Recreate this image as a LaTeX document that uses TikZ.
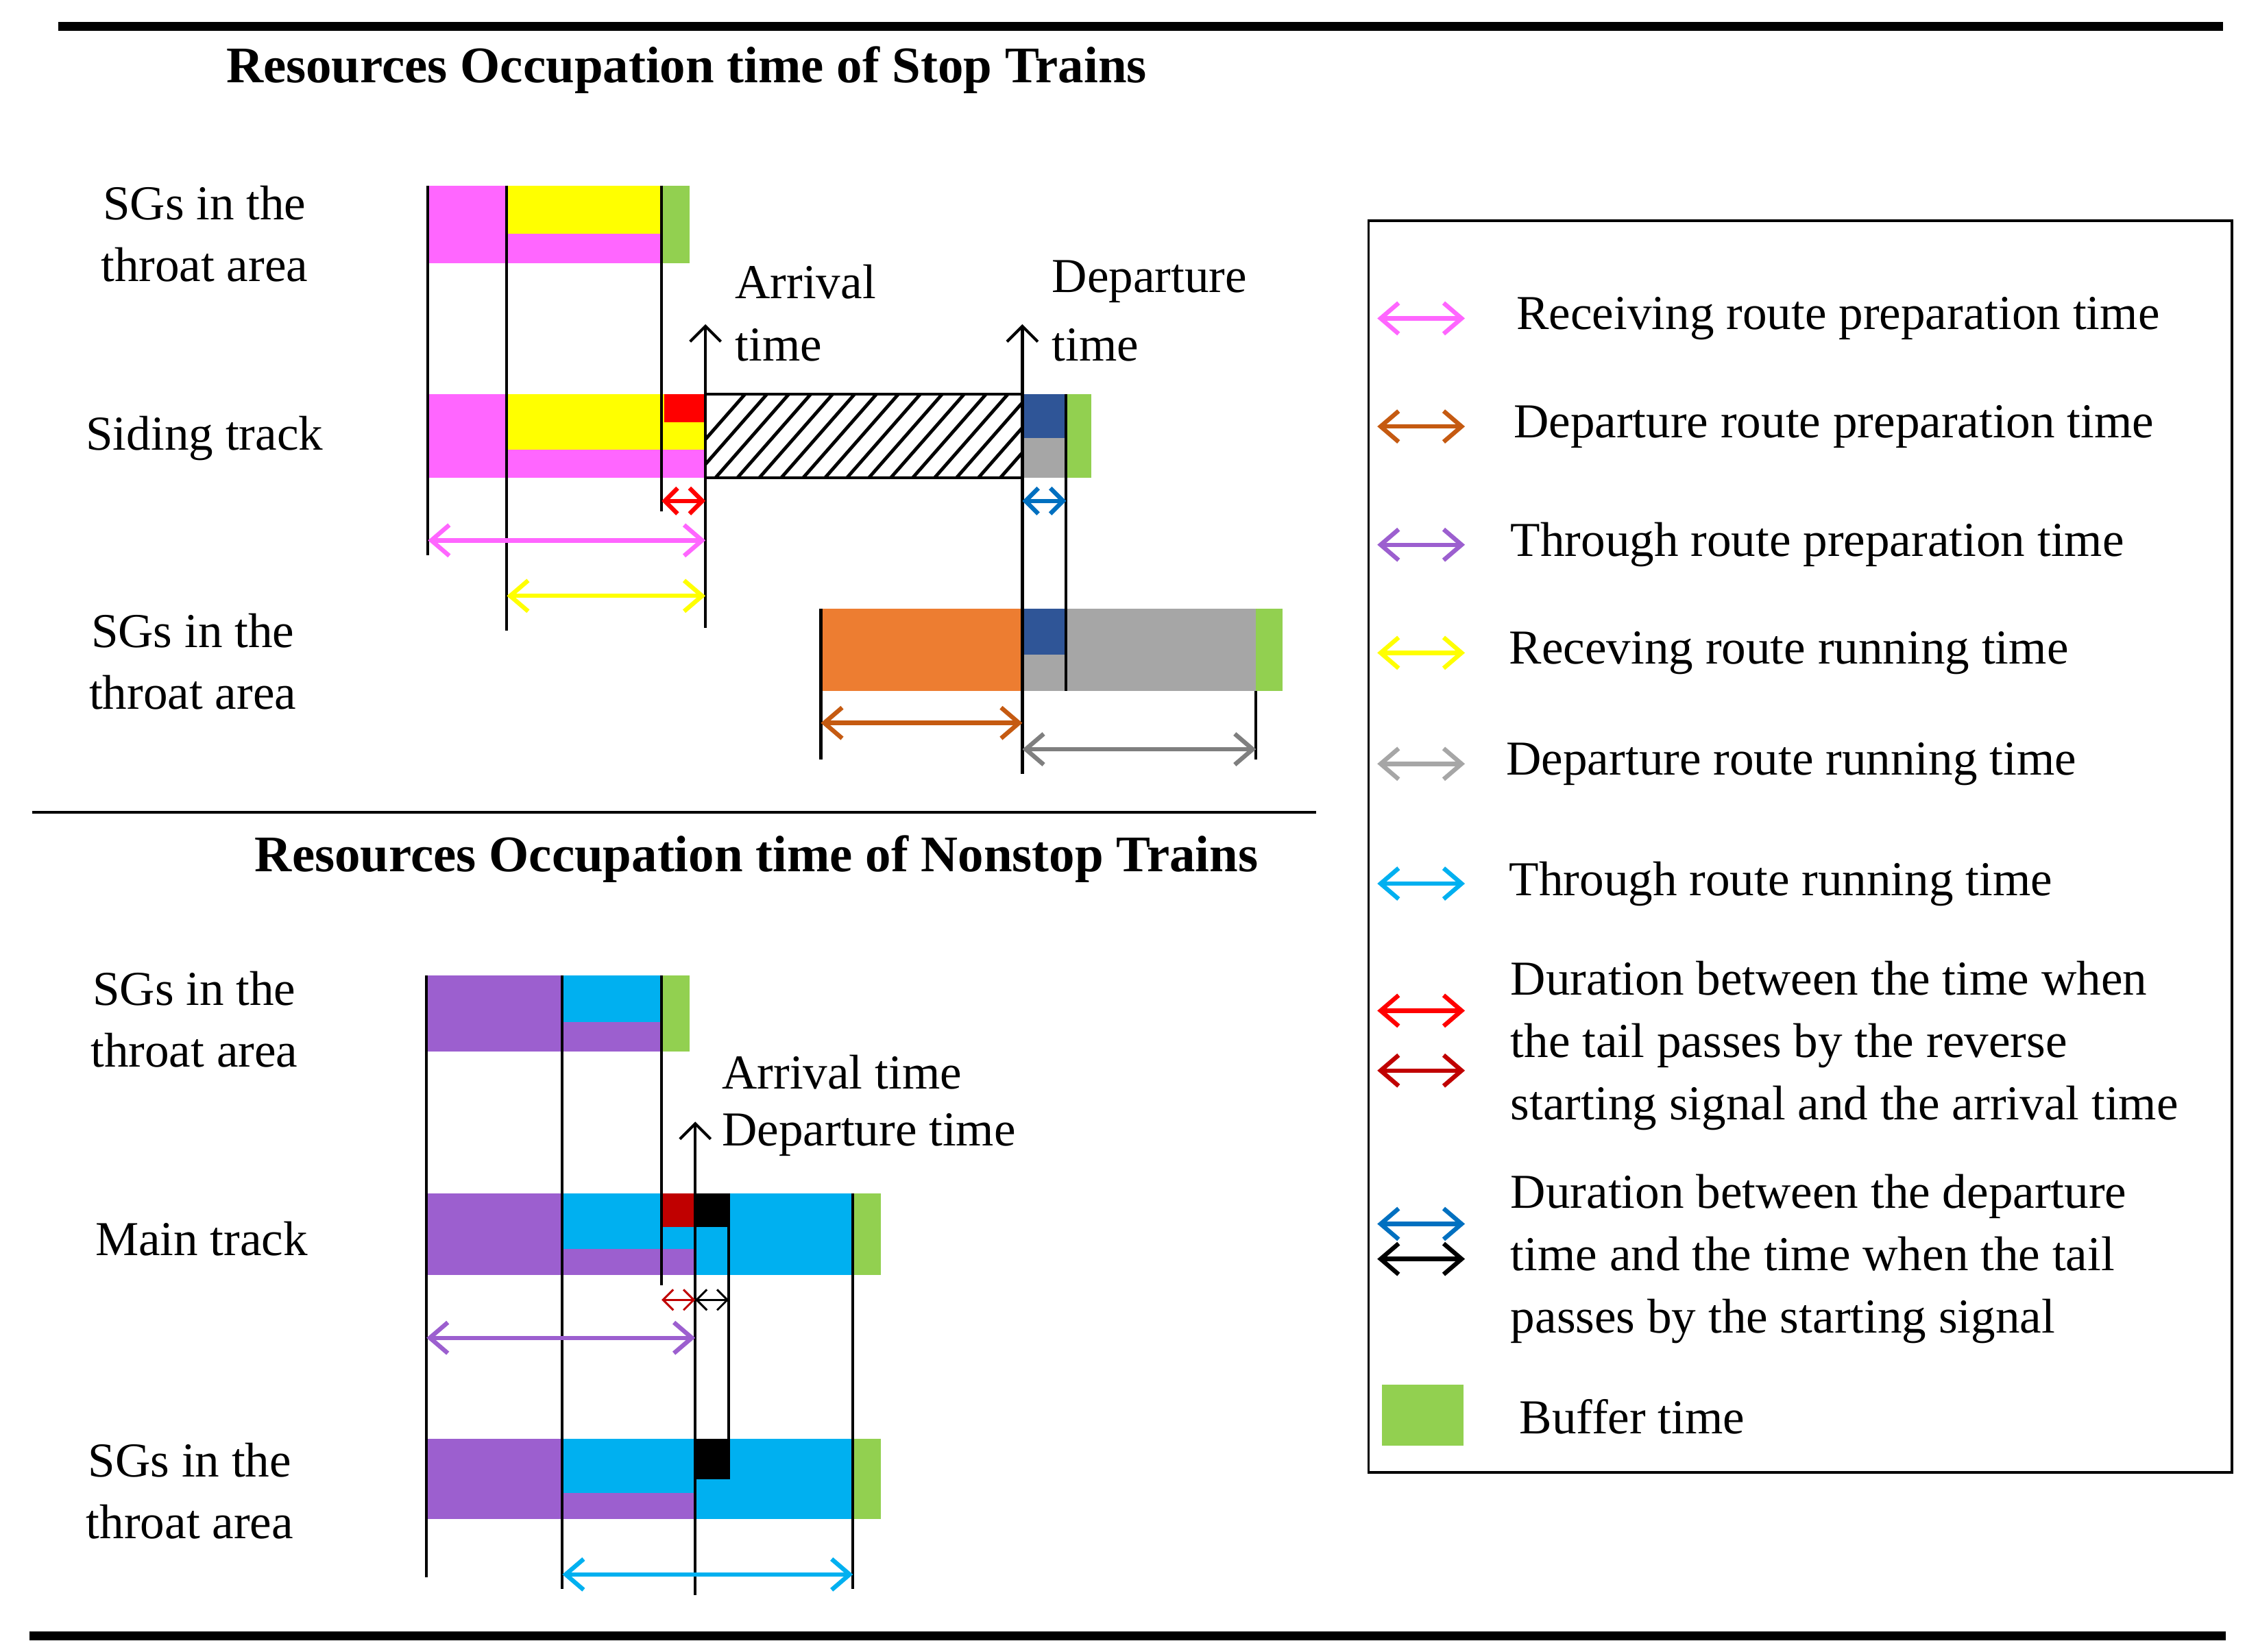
\documentclass[tikz,border=0pt]{standalone}
\usepackage{fontspec}
\setmainfont{Liberation Serif}
\usetikzlibrary{arrows.meta}
\definecolor{mag}{HTML}{FF66FF}
\definecolor{yel}{HTML}{FFFF00}
\definecolor{pur}{HTML}{9C5FCF}
\definecolor{cya}{HTML}{00B0F0}
\definecolor{grn}{HTML}{92D050}
\definecolor{org}{HTML}{ED7D31}
\definecolor{orga}{HTML}{C55A11}
\definecolor{dbl}{HTML}{2F5597}
\definecolor{gry}{HTML}{A6A6A6}
\definecolor{dgry}{HTML}{7F7F7F}
\definecolor{red}{HTML}{FF0000}
\definecolor{dred}{HTML}{C00000}
\definecolor{blu}{HTML}{0070C0}
\tikzset{
 txt/.style={font=\fontsize{19}{24}\selectfont, align=center, inner sep=0},
 ltxt/.style={font=\fontsize{19}{24.3}\selectfont, align=left, anchor=west, inner sep=0},
 ttl/.style={font=\bfseries\fontsize{20}{24}\selectfont, inner sep=0},
 dur/.style={{Straight Barb[length=7pt,width=12pt]}-{Straight Barb[length=7pt,width=12pt]}, line width=1.7pt},
 mdur/.style={{Straight Barb[length=5pt,width=10pt]}-{Straight Barb[length=5pt,width=10pt]}, line width=1.7pt},
 sdur/.style={{Straight Barb[length=4pt,width=8pt]}-{Straight Barb[length=4pt,width=8pt]}, line width=0.8pt},
 vl/.style={line width=1.1pt},
 up/.style={-{Straight Barb[length=6pt,width=12pt]}, line width=1.1pt},
}
\begin{document}
\begin{tikzpicture}[x=0.02cm,y=-0.02cm]
\useasboundingbox (0,0) rectangle (1546,1131);
\draw[line width=3.5pt] (40,18) -- (1522,18);
\draw[line width=3.5pt] (20,1120) -- (1524,1120);
\node[ttl] (t1) at (470,48) {Resources Occupation time of Stop Trains};
\node[ttl] (t2) at (518,588) {Resources Occupation time of Nonstop Trains};
\draw[line width=1pt] (22,556) -- (901,556);
% labels
\node[txt] (l1) at (140,160) {SGs in the\\throat area};
\node[txt] (l2) at (140,300) {Siding track};
\node[txt] (l3) at (132,453) {SGs in the\\throat area};
\node[txt] (l4) at (133,698) {SGs in the\\throat area};
\node[txt] (l5) at (138,848) {Main track};
\node[txt] (l6) at (130,1021) {SGs in the\\throat area};
% stop row1
\fill[mag] (293,127) rectangle (347,180);
\fill[yel] (347,127) rectangle (453,160);
\fill[mag] (347,160) rectangle (453,180);
\fill[grn] (453,127) rectangle (472,180);
% stop row2
\fill[mag] (293,270) rectangle (347,327);
\fill[yel] (347,270) rectangle (483,308);
\fill[mag] (347,308) rectangle (483,327);
\fill[red] (455,270) rectangle (483,289);
\begin{scope}
\clip (483,270) rectangle (700,327);
\foreach \i in {0,...,20} \draw[line width=1.3pt] (460+\i*15,327) -- (510+\i*15,270);
\end{scope}
\draw[line width=1pt] (483,270) rectangle (700,327);
\fill[dbl] (700,270) rectangle (730,300);
\fill[gry] (700,300) rectangle (730,327);
\fill[grn] (730,270) rectangle (747,327);
% stop row3
\fill[org] (562,417) rectangle (700,473);
\fill[dbl] (700,417) rectangle (730,448);
\fill[gry] (700,448) rectangle (730,473);
\fill[gry] (730,417) rectangle (860,473);
\fill[grn] (860,417) rectangle (878,473);
% verticals
\draw[vl] (293,127) -- (293,380);
\draw[vl] (347,127) -- (347,432);
\draw[vl] (453,127) -- (453,350);
\draw[vl] (483,430) -- (483,270);
\draw[up] (483,270) -- (483,222);
\draw[vl] (700,530) -- (700,270);
\draw[up] (700,270) -- (700,222);
\draw[vl] (730,270) -- (730,473);
\draw[vl] (562,417) -- (562,520);
\draw[vl] (860,473) -- (860,520);
\node[ltxt] (a1) at (503,193) {Arrival};
\node[ltxt] (a2) at (503,236) {time};
\node[ltxt] (d1) at (720,193) {Departure};
\node[ltxt] (d2) at (720,236) {time};
\draw[mdur,red] (453,343) -- (483,343);
\draw[mdur,blu] (700,343) -- (730,343);
\draw[dur,mag] (293,370) -- (483,370);
\draw[dur,yel] (347,408) -- (483,408);
\draw[dur,orga] (562,495) -- (700,495);
\draw[dur,dgry] (700,513) -- (860,513);
% nonstop row1
\fill[pur] (292,668) rectangle (385,720);
\fill[cya] (385,668) rectangle (453,700);
\fill[pur] (385,700) rectangle (453,720);
\fill[grn] (453,668) rectangle (472,720);
% row2
\fill[pur] (292,817) rectangle (385,873);
\fill[cya] (385,817) rectangle (476,855);
\fill[pur] (385,855) rectangle (476,873);
\fill[dred] (453,817) rectangle (476,840);
\fill[cya] (476,817) rectangle (584,873);
\fill[black] (476,817) rectangle (499,840);
\fill[grn] (584,817) rectangle (603,873);
% row3
\fill[pur] (292,985) rectangle (385,1040);
\fill[cya] (385,985) rectangle (476,1022);
\fill[pur] (385,1022) rectangle (476,1040);
\fill[cya] (476,985) rectangle (584,1040);
\fill[black] (476,985) rectangle (499,1013);
\fill[grn] (584,985) rectangle (603,1040);
\draw[vl] (292,668) -- (292,1080);
\draw[vl] (385,668) -- (385,1088);
\draw[vl] (453,668) -- (453,880);
\draw[vl] (476,1092) -- (476,817);
\draw[up] (476,817) -- (476,768);
\draw[vl] (499,817) -- (499,1013);
\draw[vl] (584,817) -- (584,1088);
\node[ltxt] (a3) at (494,734) {Arrival time};
\node[ltxt] (d3) at (494,777) {Departure time};
\draw[sdur,dred] (453,890) -- (476,890);
\draw[sdur,black] (476,890) -- (499,890);
\draw[dur,pur] (292,916) -- (476,916);
\draw[dur,cya] (385,1078) -- (584,1078);
% legend
\draw[line width=1pt] (937,151) rectangle (1528,1008);
\draw[dur,mag] (943,218) -- (1003,218);
\node[ltxt] at (1038,218) {Receiving route preparation time};
\draw[dur,orga] (943,292) -- (1003,292);
\node[ltxt] at (1036,292) {Departure route preparation time};
\draw[dur,pur] (943,373) -- (1003,373);
\node[ltxt] at (1034,373) {Through route preparation time};
\draw[dur,yel] (943,447) -- (1003,447);
\node[ltxt] at (1033,447) {Receving route running time};
\draw[dur,gry] (943,523) -- (1003,523);
\node[ltxt] at (1031,523) {Departure route running time};
\draw[dur,cya] (943,605) -- (1003,605);
\node[ltxt] at (1033,605) {Through route running time};
\draw[dur,red] (943,692) -- (1003,692);
\draw[dur,dred] (943,733) -- (1003,733);
\node[ltxt] at (1034,716) {Duration between the time when\\the tail passes by the reverse\\starting signal and the arrival time};
\draw[dur,blu] (943,838) -- (1003,838);
\draw[dur,black] (943,862) -- (1003,862);
\node[ltxt] at (1034,862) {Duration between the departure\\time and the time when the tail\\passes by the starting signal};
\fill[grn] (946,948) rectangle (1002,990);
\node[ltxt] at (1040,970) {Buffer time};
\end{tikzpicture}
\end{document}
